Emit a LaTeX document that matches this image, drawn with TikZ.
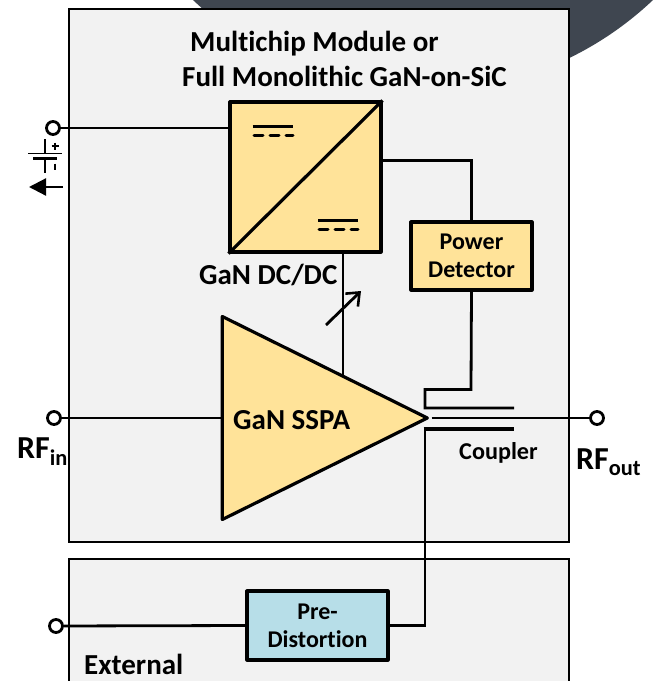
\documentclass[tikz,border=0pt]{standalone}
\usepackage{fontspec}
\setmainfont[Ligatures=NoCommon]{Carlito}
\usetikzlibrary{arrows.meta,positioning,calc,shapes.geometric}
\definecolor{panelgray}{HTML}{F2F2F2}
\definecolor{slatedark}{HTML}{3F4650}
\definecolor{ganyellow}{HTML}{FFE399}
\definecolor{preblue}{HTML}{B7DEE8}

\begin{document}
\begin{tikzpicture}[x=1pt,y=-1pt,>=Stealth,font=\bfseries,
 panel/.style={draw=black,fill=panelgray,line width=1.6pt,inner sep=0pt,anchor=north west},
 block/.style={draw=black,fill=ganyellow,line width=3.2pt,inner sep=0pt,align=center,line join=round},
 terminal/.style={circle,draw=black,fill=white,line width=2.8pt,minimum size=13pt,inner sep=0pt},
 wire/.style={draw=black,line width=2.8pt,line join=miter},
 lab/.style={inner sep=0pt,anchor=west},
 biglabel/.style={font=\fontsize{29}{34}\selectfont\bfseries},
 rflabel/.style={font=\fontsize{32}{36}\selectfont\bfseries},
 midlabel/.style={font=\fontsize{24.2}{29}\selectfont\bfseries},
 smalllabel/.style={font=\fontsize{24}{28}\selectfont\bfseries}]
\useasboundingbox (0,0) rectangle (654,681);
\clip (0,0) rectangle (654,681);
% backdrop
\fill[slatedark] (423,-243) circle[radius=334.6pt];
\node[panel,minimum width=500pt,minimum height=533pt] (module) at (68.2,8.2) {};
\node[panel,minimum width=500pt,minimum height=160pt] (external) at (68.2,558.2) {};
% blocks
\node[block,minimum width=151pt,minimum height=150pt] (dcdc) at (305.5,177) {};
\node[block,minimum width=121pt,minimum height=68pt,smalllabel] (detector) at (471.5,256) {Power\\Detector};
\node[block,fill=preblue,minimum width=141pt,minimum height=69pt,smalllabel] (predist) at (317.5,625.5) {Pre-\\Distortion};
\node[block,isosceles triangle,isosceles triangle stretches,shape border rotate=0,
 minimum width=203pt,minimum height=205pt,anchor=apex] (sspa) at (431.5,418) {};
% terminals
\node[terminal] (vin) at (53,128) {};
\node[terminal] (rfin) at (54,418) {};
\node[terminal] (rfout) at (597,418) {};
\node[terminal] (predin) at (56,626) {};
% wiring points
\coordinate (dcout) at (381,160.5);
\coordinate (dctap) at (343,252);
\coordinate (sspatap) at (343,376);
\coordinate (cplbend) at (471,389.5);
\coordinate (cpltop) at (514,408);
\coordinate (cplbot) at (514,429);
\coordinate (cplleft) at (425,418);
\coordinate (trimstart) at (326,325);
\coordinate (trimend) at (361,291);
% connectors
\draw[wire] (vin) -- (vin -| dcdc.west);
\draw[wire] (dcout) -| (detector.north);
\draw[wire] (detector.south) -- (cplbend) -- (cplbend -| cplleft) |- (cpltop);
\draw[wire] (dctap) -- (sspatap);
\draw[wire] (rfin) -- (rfin -| sspa.west);
\draw[wire] (sspa.apex) -- (rfout);
\draw[wire] (cplbot -| cplleft) -- (cplleft |- predist.east) -- (predist.east);
\draw[wire,line width=4pt] ($(cplbot -| cplleft)+(-1.4,0)$) -- (cplbot);
\draw[wire] (predin) -- (predist.west);
\draw[wire,-{Straight Barb[length=11pt,width=18pt,line width=2.6pt]}] (trimstart) -- (trimend);
% dc/dc symbols
\draw[block] (dcdc.south west) -- (dcdc.north east);
\draw[line width=3pt] (252.5,126) -- (293,126);
\draw[line width=3pt,line cap=round,dash pattern=on 9pt off 7pt] (254,135) -- (293,135);
\draw[line width=3pt] (318,220) -- (358,220);
\draw[line width=3pt,line cap=round,dash pattern=on 9pt off 7pt] (319,229) -- (358,229);
% battery
\draw[line width=1.4pt] (45,139) -- (45,153) (28,153.5) -- (62,153.5) (45,159) -- (45,172.5);
\draw[line width=2.8pt] (33,158.5) -- (57,158.5);
\draw[line width=1.1pt] (51.5,146) -- (58.5,146) (55,163.5) -- (55,170);
\draw[line width=1.1pt] (55,142.5) -- (55,149.5);
\draw[line width=2.2pt,-{Triangle[length=17pt,width=17pt]}] (63,187) -- (29,187);
% labels
\node[lab,biglabel] (titleone) at (190,44) {Multichip Module or};
\node[lab,biglabel] (titletwo) at (182,76.5) {Full Monolithic GaN-on-SiC};
\node[lab,biglabel] (dcdclab) at (199,275) {GaN DC/DC};
\node[lab,biglabel] (sspalab) at (233,420) {GaN SSPA};
\node[lab,midlabel] (couplerlab) at (459,453) {Coupler};
\node[lab,rflabel] (rfinlab) at (17,452) {RF\textsubscript{in}};
\node[lab,rflabel] (rfoutlab) at (576,462) {RF\textsubscript{out}};
\node[lab,biglabel] (extlab) at (84,664.5) {External};
\end{tikzpicture}
\end{document}
